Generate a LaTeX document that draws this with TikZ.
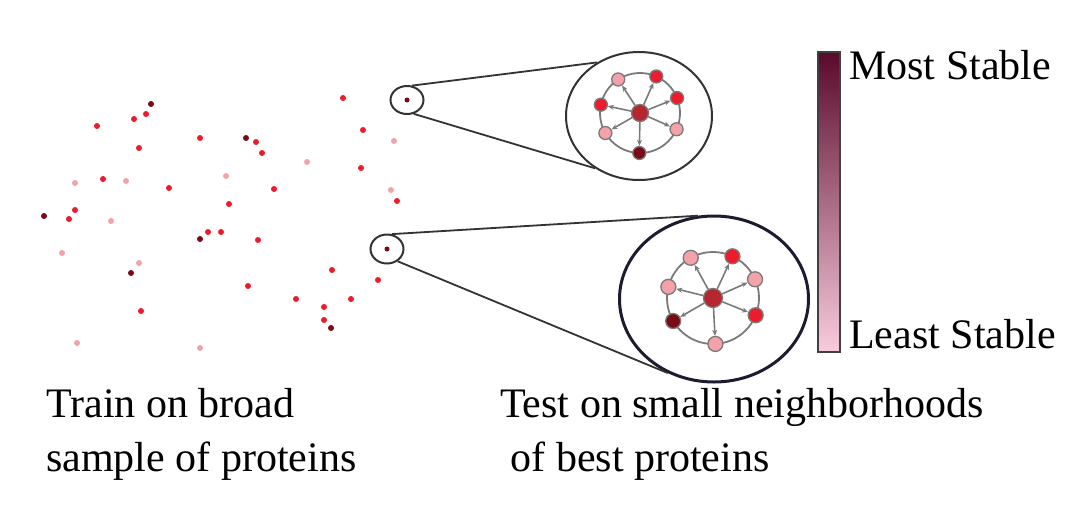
\documentclass[tikz,border=0pt]{standalone}
\usepackage{fontspec}
\setmainfont{Liberation Serif}
\usepackage{xcolor}
\usepackage{tikz}
\usetikzlibrary{shapes.geometric, arrows.meta, positioning, calc}
\definecolor{dotred}{HTML}{EC1C2C}
\definecolor{dotdark}{HTML}{7A0A18}
\definecolor{dotlight}{HTML}{F4A2AA}
\definecolor{hubred}{HTML}{B5262E}
\definecolor{edgegray}{HTML}{7A7A7A}
\definecolor{stabletop}{HTML}{5A0A2C}
\definecolor{stablebot}{HTML}{F8CCDD}
\definecolor{lensnavy}{HTML}{1C1C30}

\begin{document}
\begin{tikzpicture}[
    x=1pt, y=-1pt,
    every node/.style={font=\fontsize{42}{53.4}\selectfont},
    dot/.style={circle, fill=#1, inner sep=0pt, minimum size=6pt},
    lens/.style={ellipse, draw=black!80, line width=2pt, inner sep=0pt},
    bignode/.style={circle, draw=edgegray, line width=1.3pt, fill=#1,
                    inner sep=0pt, minimum size=13pt},
    hub/.style={circle, draw=edgegray, line width=1.3pt, fill=hubred,
                inner sep=0pt, minimum size=17pt},
    spoke/.style={-{Stealth[length=6pt, width=5pt]}, line width=1.6pt,
                  color=edgegray},
    ring/.style={line width=1.8pt, color=edgegray},
    zoomline/.style={line width=1.8pt, color=black!80},
    caption/.style={align=left, inner sep=0pt, anchor=base west}
]
\useasboundingbox (0,0) rectangle (1080,512);

% scattered sample of proteins
\foreach \px/\py/\c in {151/104/dotdark, 146/114/dotred, 134/119/dotred,
    97/126/dotred, 139/148/dotred, 200/138/dotred, 246/138/dotdark,
    256/142/dotred, 262/153/dotred, 343/98/dotred, 363/130/dotred,
    394/141/dotlight, 307/162/dotlight, 361/168/dotred, 75/183/dotlight,
    103/179/dotred, 126/181/dotlight, 169/188/dotred, 226/176/dotlight,
    274/189/dotred, 391/190/dotlight, 397/201/dotred, 44/216/dotdark,
    75/210/dotred, 69/219/dotred, 111/221/dotlight, 229/204/dotred,
    208/232/dotred, 221/232/dotred, 200/239/dotdark, 258/240/dotred,
    62/253/dotlight, 139/263/dotlight, 131/273/dotdark, 332/270/dotred,
    378/280/dotred, 248/286/dotred, 296/299/dotred, 351/299/dotred,
    324/307/dotred, 324/320/dotred, 331/328/dotdark, 141/311/dotred,
    77/343/dotlight, 200/348/dotlight}
    \node[dot=\c] at (\px,\py) {};

% picked proteins and their lenses
\node[dot=dotdark, minimum size=5pt] (pickA) at (407,100) {};
\node[dot=dotdark, minimum size=5pt] (pickB) at (387,249) {};
\node[lens, minimum width=33pt, minimum height=28pt] (lensA) at (pickA) {};
\node[lens, minimum width=33pt, minimum height=29pt] (lensB) at (pickB) {};
\node[lens, minimum width=146pt, minimum height=128pt] (zoomA) at (639,116) {};
\node[lens, draw=lensnavy, line width=3pt, minimum width=189pt,
      minimum height=166pt] (zoomB) at (714,299) {};

\draw[zoomline] (lensA.71) -- (zoomA.128);
\draw[zoomline] (lensA.-64) -- (zoomA.230);
\draw[zoomline] (lensB.72) -- (zoomB.101);
\draw[zoomline] (lensB.-49) -- (zoomB.238);

% neighborhood graphs
\coordinate (cA) at (640,113);
\coordinate (cB) at (713,298);
\draw[ring] (cA) circle[radius=40pt];
\draw[ring] (cB) circle[radius=46pt];
\node[hub] (hubA) at (cA) {};
\node[hub, minimum size=19pt] (hubB) at (cB) {};
\foreach \a/\c [count=\i] in {123/dotlight, 66/dotred, 22/dotred,
    -24/dotlight, -91/dotdark, 210/dotlight, 168/dotred} {
  \node[bignode=\c] (nA\i) at ($(cA)+(\a:40pt)$) {};
  \draw[spoke] (hubA) -- (nA\i);
}
\foreach \a/\c [count=\i] in {119/dotlight, 65/dotred, 24/dotlight,
    -22/dotred, -87/dotlight, 210/dotdark, 166/dotlight} {
  \node[bignode=\c, minimum size=15pt] (nB\i) at ($(cB)+(\a:46pt)$) {};
  \draw[spoke] (hubB) -- (nB\i);
}

% stability scale
\node[draw=black!75, line width=1.6pt, inner sep=0pt, minimum width=22pt,
      minimum height=300pt, top color=stabletop, bottom color=stablebot]
      (scale) at (829,202) {};
\node[caption] (most) at (849,79) {Most Stable};
\node[caption] (least) at (849,348) {Least Stable};

% captions
\node[caption] (train) at (46,471) {Train on broad\\sample of proteins};
\node[caption] (test) at (500,471) {Test on small neighborhoods\\\ of best proteins};

\end{tikzpicture}
\end{document}
